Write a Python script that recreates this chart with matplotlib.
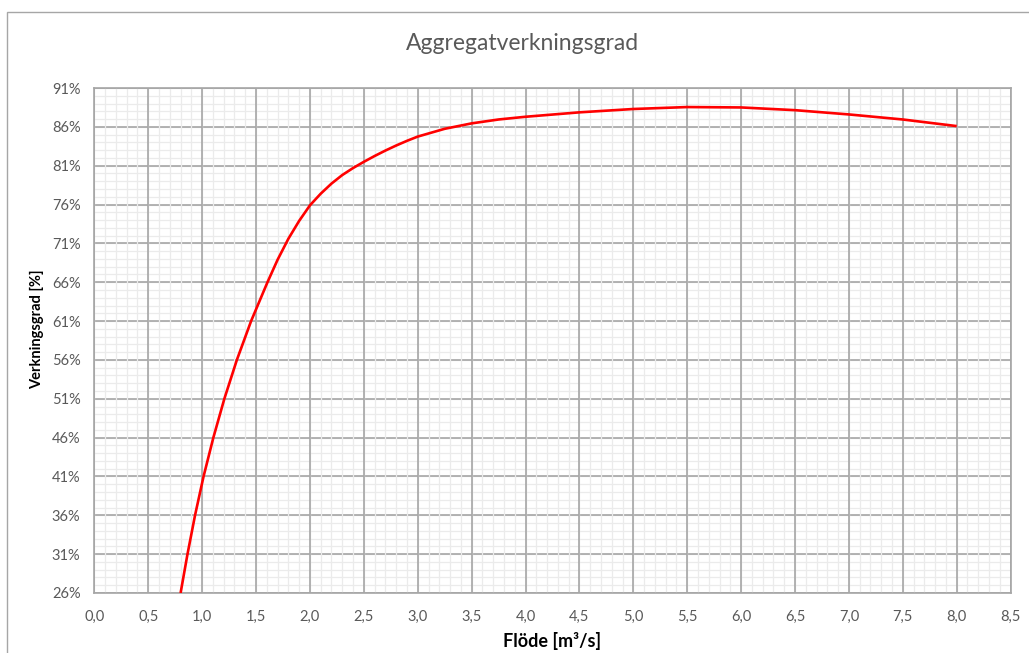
import numpy as np
import matplotlib.pyplot as plt
from matplotlib.ticker import FuncFormatter
from matplotlib.patches import Rectangle

# data
flow = [0.80, 0.864, 0.934, 1.013, 1.104, 1.206, 1.322, 1.454, 1.606, 1.7,
        1.8, 1.9, 2.0, 2.1, 2.2, 2.3, 2.4, 2.5, 2.6, 2.7, 2.8, 2.9, 3.0,
        3.25, 3.5, 3.75, 4.0, 4.5, 5.0, 5.5, 6.0, 6.5, 7.0, 7.5, 8.0]
eff = [26.0, 31.0, 36.0, 41.0, 46.0, 51.0, 56.0, 61.0, 66.0, 68.9,
       71.6, 73.9, 75.9, 77.4, 78.7, 79.8, 80.7, 81.5, 82.25, 82.95, 83.6, 84.2, 84.75,
       85.75, 86.45, 86.95, 87.3, 87.87, 88.3, 88.55, 88.5, 88.15, 87.6, 86.95, 86.1]

x_ticks = np.arange(0, 8.51, 0.5)
y_ticks = np.arange(26, 92, 5)
x_minor = np.arange(0, 8.51, 0.1)
y_minor = np.arange(26, 92, 1)

title = "Aggregatverkningsgrad"
xlabel = "Flöde [m³/s]"
ylabel = "Verkningsgrad [%]"

plt.rcParams['font.family'] = ['Lato', 'DejaVu Sans']
txt = '#595959'
major_c = '#a6a6a6'
minor_c = '#ebebeb'

fig = plt.figure(figsize=(10.29, 6.53), dpi=100)
ax = fig.add_axes([0.0917, 0.0919, 0.8904, 0.7733])

ax.plot(flow, eff, color='#ff0000', lw=1.9, zorder=5, solid_capstyle='butt')

ax.set_xlim(0, 8.5)
ax.set_ylim(26, 91)

# grid layered like excel: y minor, y major, x minor, x major
ax.hlines(y_minor, 0, 8.5, color=minor_c, lw=0.9, zorder=0.5)
ax.hlines(y_ticks, 0, 8.5, color=major_c, lw=1.2, zorder=1)
ax.vlines(x_minor, 26, 91, color=minor_c, lw=0.9, zorder=1.5)
ax.vlines(x_ticks, 26, 91, color=major_c, lw=1.2, zorder=2)

ax.set_xticks(x_ticks)
ax.set_yticks(y_ticks)
ax.xaxis.set_major_formatter(FuncFormatter(lambda v, p: f"{v:.1f}".replace('.', ',')))
ax.yaxis.set_major_formatter(FuncFormatter(lambda v, p: f"{v:.0f}%"))
for s in ax.spines.values():
    s.set_color(major_c)
    s.set_linewidth(1.2)

ax.tick_params(which='both', length=0, colors=txt, labelsize=10.5)
ax.tick_params(axis='x', pad=12)
ax.tick_params(axis='y', pad=10)

fig.text(0.5075, 0.933, title, fontsize=16.5, color=txt, ha='center', va='center')
ax.set_xlabel(xlabel, fontsize=13, fontweight='bold', color='black', labelpad=6)
ax.set_ylabel(ylabel, fontsize=10.5, fontweight='bold', color='black', labelpad=10)
ax.yaxis.set_label_coords(-0.055, 0.523)

# chart area border
fig.patches.append(Rectangle((0.0068, -0.05), 1.0, 1.032, transform=fig.transFigure,
                             fill=False, edgecolor=major_c, lw=1.0))

fig.savefig('out.png', dpi=100)
